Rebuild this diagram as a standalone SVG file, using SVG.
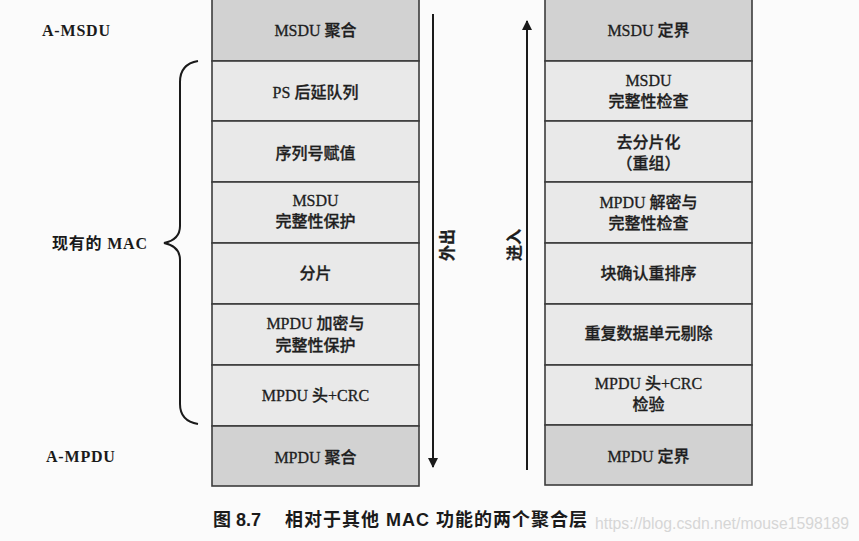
<svg xmlns="http://www.w3.org/2000/svg" width="859" height="541" viewBox="0 0 859 541">
<defs>
<style>
.hdr{fill:#d2d2d2;stroke:#3c3c3c;stroke-width:1.6}
.mid{fill:#e9e9e9;stroke:#3c3c3c;stroke-width:1.6}
.t{font-family:"Liberation Serif","Noto Sans CJK SC",serif;font-size:16px;font-weight:500;fill:#1e1e1e;stroke:#1e1e1e;stroke-width:0.3;text-anchor:middle}
.lbl{font-family:"Liberation Serif","Noto Sans CJK SC",serif;font-size:16px;font-weight:bold;fill:#1a1a1a;letter-spacing:0.8px}
.ln{fill:none;stroke:#1a1a1a;stroke-width:2}
.cap{font-family:"Liberation Sans","Noto Sans CJK SC",sans-serif;font-size:18px;font-weight:bold;fill:#1a1a1a}
.wm{font-family:"Liberation Sans",sans-serif;font-size:16px;fill:#d6d6d6}
</style>
<marker id="ah" viewBox="0 0 10 10" refX="9" refY="5" markerWidth="5" markerHeight="6" markerUnits="strokeWidth" orient="auto">
<path d="M0,0 L10,5 L0,10 Z" fill="#1a1a1a"/>
</marker>
</defs>
<rect width="859" height="541" fill="#fbfbfb"/>

<g id="left-stack">
<g id="l-msdu-agg"><rect class="hdr" x="212" y="-2" width="207" height="63"/><text class="t" x="315.5" y="36">MSDU 聚合</text></g>
<g id="l-ps"><rect class="mid" x="212" y="61" width="207" height="60"/><text class="t" x="315.5" y="98">PS 后延队列</text></g>
<g id="l-seq"><rect class="mid" x="212" y="121" width="207" height="61"/><text class="t" x="315.5" y="159">序列号赋值</text></g>
<g id="l-msdu-int"><rect class="mid" x="212" y="182" width="207" height="61"/><text class="t" x="315.5" y="206">MSDU</text><text class="t" x="315.5" y="227">完整性保护</text></g>
<g id="l-frag"><rect class="mid" x="212" y="243" width="207" height="61"/><text class="t" x="315.5" y="279">分片</text></g>
<g id="l-mpdu-enc"><rect class="mid" x="212" y="304" width="207" height="61"/><text class="t" x="315.5" y="329">MPDU 加密与</text><text class="t" x="315.5" y="351">完整性保护</text></g>
<g id="l-mpdu-crc"><rect class="mid" x="212" y="365" width="207" height="61"/><text class="t" x="315.5" y="401">MPDU 头+CRC</text></g>
<g id="l-mpdu-agg"><rect class="hdr" x="212" y="426" width="207" height="60"/><text class="t" x="315.5" y="463">MPDU 聚合</text></g>
</g>

<g id="right-stack">
<g id="r-msdu-del"><rect class="hdr" x="545" y="-2" width="207" height="63"/><text class="t" x="648.5" y="36">MSDU 定界</text></g>
<g id="r-msdu-chk"><rect class="mid" x="545" y="61" width="207" height="60"/><text class="t" x="648.5" y="86">MSDU</text><text class="t" x="648.5" y="107">完整性检查</text></g>
<g id="r-defrag"><rect class="mid" x="545" y="121" width="207" height="61"/><text class="t" x="648.5" y="148">去分片化</text><text class="t" x="648.5" y="169">（重组）</text></g>
<g id="r-mpdu-dec"><rect class="mid" x="545" y="182" width="207" height="61"/><text class="t" x="648.5" y="208">MPDU 解密与</text><text class="t" x="648.5" y="229">完整性检查</text></g>
<g id="r-ba"><rect class="mid" x="545" y="243" width="207" height="61"/><text class="t" x="648.5" y="279">块确认重排序</text></g>
<g id="r-dup"><rect class="mid" x="545" y="304" width="207" height="61"/><text class="t" x="648.5" y="339">重复数据单元剔除</text></g>
<g id="r-crc"><rect class="mid" x="545" y="365" width="207" height="60"/><text class="t" x="648.5" y="389">MPDU 头+CRC</text><text class="t" x="648.5" y="410">检验</text></g>
<g id="r-mpdu-del"><rect class="hdr" x="545" y="425" width="207" height="60"/><text class="t" x="648.5" y="462">MPDU 定界</text></g>
</g>

<g id="labels">
<text class="lbl" x="42" y="36">A-MSDU</text>
<text class="lbl" x="46" y="462">A-MPDU</text>
<text class="lbl" x="52" y="249">现有的 MAC</text>
</g>

<g id="connectors">
<path class="ln" d="M198,61 C186,63 180,70 180,82 L180,226 C180,236 174,241 164,243 C174,245 180,250 180,260 L180,404 C180,416 186,422 198,424" stroke-width="1.8"/>
<line class="ln" x1="433" y1="14" x2="433" y2="467" marker-end="url(#ah)"/>
<line class="ln" x1="527" y1="470" x2="527" y2="21" marker-end="url(#ah)"/>
<text class="t" transform="translate(453,245) rotate(-90)" style="font-weight:bold">外出</text>
<text class="t" transform="translate(520,245) rotate(-90)" style="font-weight:bold">进入</text>
</g>

<g id="caption">
<text class="cap" x="213" y="526">图 8.7</text>
<text class="cap" x="285" y="526" textLength="302" lengthAdjust="spacing">相对于其他 MAC 功能的两个聚合层</text>
<text class="wm" x="595" y="529" textLength="254" lengthAdjust="spacingAndGlyphs">https://blog.csdn.net/mouse1598189</text>
</g>
</svg>
